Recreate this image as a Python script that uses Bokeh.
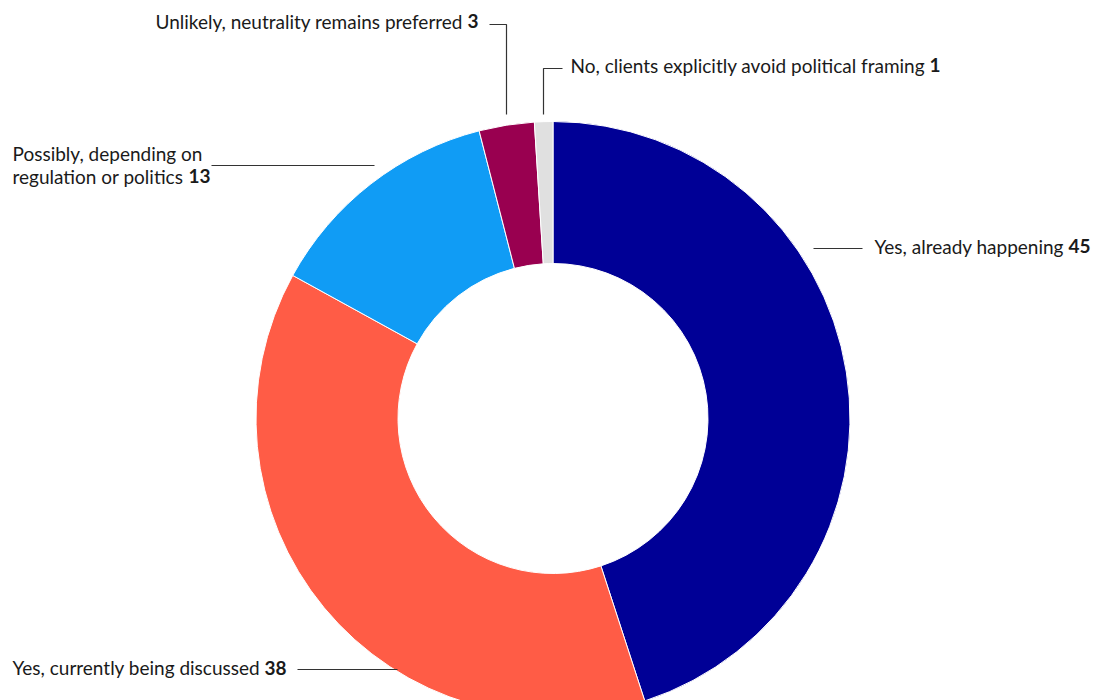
import numpy as np
from bokeh.plotting import figure
from bokeh.models import Range1d, ColumnDataSource
from bokeh.core.properties import value
from bokeh.embed import file_html
from bokeh.resources import INLINE

# ---- data ----
categories = [
    "Yes, already happening",
    "Yes, currently being discussed",
    "Possibly, depending on regulation or politics",
    "Unlikely, neutrality remains preferred",
    "No, clients explicitly avoid political framing",
]
values = [45, 38, 13, 3, 1]
colors = ["#000096", "#FF5C46", "#109CF5", "#990050", "#E0E0E0"]

# ---- layout (pixel coordinates, y measured from top) ----
W, H = 1106, 700
CX, CY = 552.5, 418
R_IN, R_OUT = 155, 297
FONT = "Lato"
FSIZE = "19px"
TXT = "#1a1a1a"

label_lines = [
    [categories[0]],
    [categories[1]],
    ["Possibly, depending on", "regulation or politics"],
    [categories[3]],
    [categories[4]],
]
label_x = [874, 12, 12, 155, 570]
label_y = [[245.5], [667], [152.5, 175.5], [20.5], [64.5]]
num_x = [1068, 264, 188, 467, 929]
leaders = [
    ([813, 862], [248, 248]),
    ([297, 397], [669, 669]),
    ([211, 374], [165, 165]),
    ([489, 506, 506], [24, 24, 114]),
    ([562, 543, 543], [68, 68, 114]),
]

p = figure(width=W, height=H, x_range=Range1d(0, W), y_range=Range1d(0, H),
           output_backend="svg", toolbar_location=None, min_border=0)
p.axis.visible = False
p.grid.visible = False
p.outline_line_color = None
p.background_fill_color = "white"
p.border_fill_color = "white"

total = float(sum(values))
cum = np.cumsum([0] + values)
start = np.pi / 2 - 2 * np.pi * cum[:-1] / total
end = np.pi / 2 - 2 * np.pi * cum[1:] / total
src = ColumnDataSource(dict(start=start, end=end, color=colors,
                            cat=categories, val=values))
p.annular_wedge(x=CX, y=H - CY, inner_radius=R_IN, outer_radius=R_OUT,
                start_angle="start", end_angle="end", direction="clock",
                fill_color="color", line_color="white", line_width=1,
                source=src)

p.multi_line(xs=[l[0] for l in leaders],
             ys=[[H - v for v in l[1]] for l in leaders],
             line_color="#333333", line_width=1.2)

tx, ty, tt = [], [], []
for lines, x, ys in zip(label_lines, label_x, label_y):
    for line, y in zip(lines, ys):
        tx.append(x)
        ty.append(H - y)
        tt.append(line)
p.text(x=tx, y=ty, text=tt, text_font=value(FONT), text_font_size=FSIZE,
       text_color=TXT, text_align="left", text_baseline="alphabetic")

nx, ny, nt = [], [], []
for v, x, ys in zip(values, num_x, label_y):
    nx.append(x)
    ny.append(H - ys[-1])
    nt.append(str(v))
p.text(x=nx, y=ny, text=nt, text_font=value(FONT), text_font_size=FSIZE,
       text_font_style="bold", text_color=TXT, text_align="left",
       text_baseline="alphabetic")

open("out.html", "w").write(file_html(p, INLINE))
